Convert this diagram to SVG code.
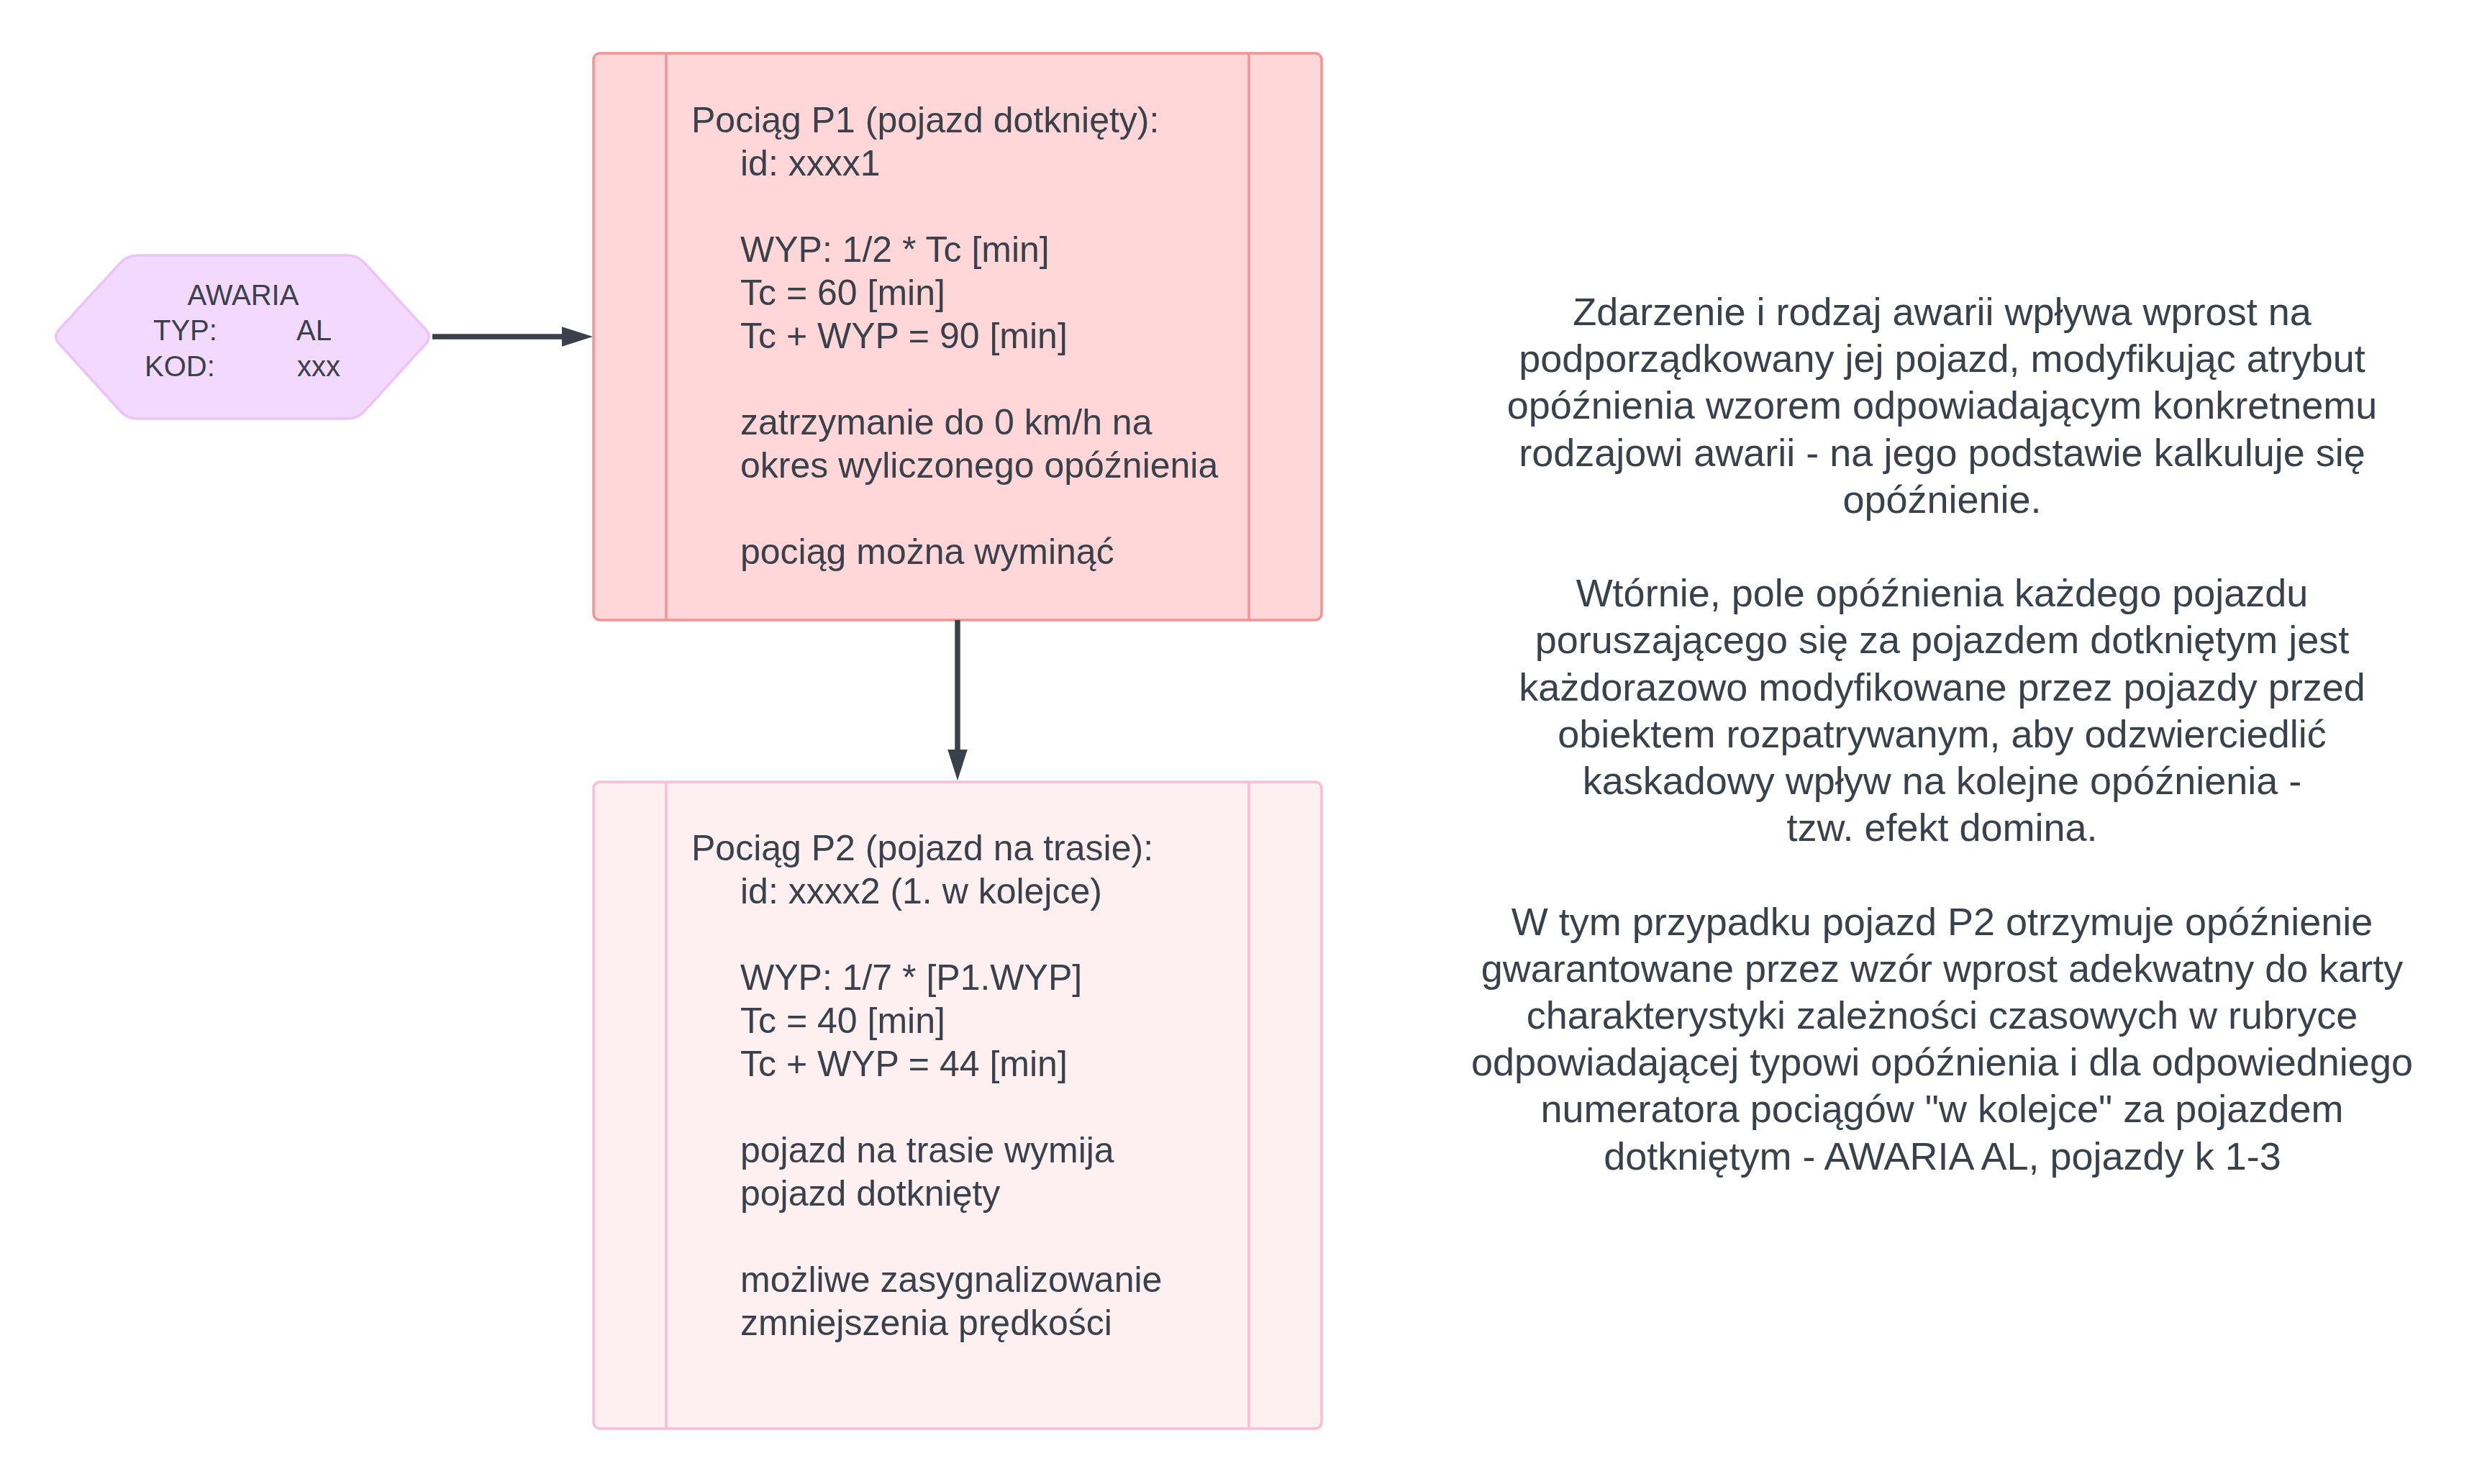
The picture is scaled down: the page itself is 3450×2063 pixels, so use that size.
<svg xmlns="http://www.w3.org/2000/svg" width="3450" height="2063" viewBox="0 0 3450 2063">
<style>
  text { font-family: "Liberation Sans", Arial, sans-serif; fill: #3A414A; }
  .box-text { font-size: 50px; }
  .hex-text { font-size: 40px; }
  .note { font-size: 54px; text-anchor: middle; }
  .conn { stroke: #3A414A; stroke-width: 7.5; fill: none; }
</style>
<defs>
  <marker id="arrow" markerUnits="userSpaceOnUse" markerWidth="44" markerHeight="28" refX="0" refY="13.75" orient="auto">
    <path d="M0,0 L43,13.75 L0,27.5 Z" fill="#3A414A"/>
  </marker>
</defs>
<rect x="0" y="0" width="3450" height="2063" fill="#FFFFFF"/>

<g id="awaria">
  <path d="M 82.5 457.7 L 167.5 365.3 Q 177 355 191 355 L 483 355 Q 497 355 506.5 365.3 L 591.5 457.7 Q 601 468 591.5 478.3 L 506.5 571.7 Q 497 582 483 582 L 191 582 Q 177 582 167.5 571.7 L 82.5 478.3 Q 73 468 82.5 457.7 Z" fill="#F3D9FD" stroke="#EBC3FB" stroke-width="3.5"/>
  <text class="hex-text" x="338" y="424" text-anchor="middle">AWARIA</text>
  <text class="hex-text" x="213" y="473">TYP:</text>
  <text class="hex-text" x="412" y="473">AL</text>
  <text class="hex-text" x="201" y="523">KOD:</text>
  <text class="hex-text" x="413" y="523">xxx</text>
</g>

<g id="p1">
  <rect x="825" y="74" width="1012" height="788" rx="9" fill="#FFD7D9" stroke="#F59293" stroke-width="3.5"/>
  <line x1="926" y1="74" x2="926" y2="862" stroke="#F59293" stroke-width="3.5"/>
  <line x1="1736" y1="74" x2="1736" y2="862" stroke="#F59293" stroke-width="3.5"/>
  <text class="box-text">
    <tspan x="961" y="184">Pociąg P1 (pojazd dotknięty):</tspan>
    <tspan x="1029" y="244">id: xxxx1</tspan>
    <tspan x="1029" y="364">WYP: 1/2 * Tc [min]</tspan>
    <tspan x="1029" y="424">Tc = 60 [min]</tspan>
    <tspan x="1029" y="484">Tc + WYP = 90 [min]</tspan>
    <tspan x="1029" y="604">zatrzymanie do 0 km/h na</tspan>
    <tspan x="1029" y="664">okres wyliczonego opóźnienia</tspan>
    <tspan x="1029" y="784">pociąg można wyminąć</tspan>
  </text>
</g>

<g id="p2">
  <rect x="825" y="1087" width="1012" height="899" rx="9" fill="#FEF0F0" stroke="#FBBCD5" stroke-width="3.5"/>
  <line x1="926" y1="1087" x2="926" y2="1986" stroke="#FBBCD5" stroke-width="3.5"/>
  <line x1="1736" y1="1087" x2="1736" y2="1986" stroke="#FBBCD5" stroke-width="3.5"/>
  <text class="box-text">
    <tspan x="961" y="1196">Pociąg P2 (pojazd na trasie):</tspan>
    <tspan x="1029" y="1256">id: xxxx2 (1. w kolejce)</tspan>
    <tspan x="1029" y="1376">WYP: 1/7 * [P1.WYP]</tspan>
    <tspan x="1029" y="1436">Tc = 40 [min]</tspan>
    <tspan x="1029" y="1496">Tc + WYP = 44 [min]</tspan>
    <tspan x="1029" y="1616">pojazd na trasie wymija</tspan>
    <tspan x="1029" y="1676">pojazd dotknięty</tspan>
    <tspan x="1029" y="1796">możliwe zasygnalizowanie</tspan>
    <tspan x="1029" y="1856">zmniejszenia prędkości</tspan>
  </text>
</g>

<g id="note">
  <text class="note">
    <tspan x="2707" y="452">Zdarzenie i rodzaj awarii wpływa wprost na</tspan>
    <tspan x="2707" y="517.2">podporządkowany jej pojazd, modyfikując atrybut</tspan>
    <tspan x="2707" y="582.4">opóźnienia wzorem odpowiadającym konkretnemu</tspan>
    <tspan x="2707" y="647.6">rodzajowi awarii - na jego podstawie kalkuluje się</tspan>
    <tspan x="2707" y="712.8">opóźnienie.</tspan>
    <tspan x="2707" y="843.2">Wtórnie, pole opóźnienia każdego pojazdu</tspan>
    <tspan x="2707" y="908.4">poruszającego się za pojazdem dotkniętym jest</tspan>
    <tspan x="2707" y="973.6">każdorazowo modyfikowane przez pojazdy przed</tspan>
    <tspan x="2707" y="1038.8">obiektem rozpatrywanym, aby odzwierciedlić</tspan>
    <tspan x="2707" y="1104">kaskadowy wpływ na kolejne opóźnienia -</tspan>
    <tspan x="2707" y="1169.2">tzw. efekt domina.</tspan>
    <tspan x="2707" y="1299.6">W tym przypadku pojazd P2 otrzymuje opóźnienie</tspan>
    <tspan x="2707" y="1364.8">gwarantowane przez wzór wprost adekwatny do karty</tspan>
    <tspan x="2707" y="1430">charakterystyki zależności czasowych w rubryce</tspan>
    <tspan x="2707" y="1495.2">odpowiadającej typowi opóźnienia i dla odpowiedniego</tspan>
    <tspan x="2707" y="1560.4">numeratora pociągów "w kolejce" za pojazdem</tspan>
    <tspan x="2700" y="1625.6">dotkniętym - AWARIA AL, pojazdy k 1-3</tspan>
  </text>
</g>

<g id="connectors">
  <line class="conn" x1="601" y1="468" x2="781" y2="468" marker-end="url(#arrow)"/>
  <line class="conn" x1="1331" y1="862" x2="1331" y2="1042" marker-end="url(#arrow)"/>
</g>
</svg>
